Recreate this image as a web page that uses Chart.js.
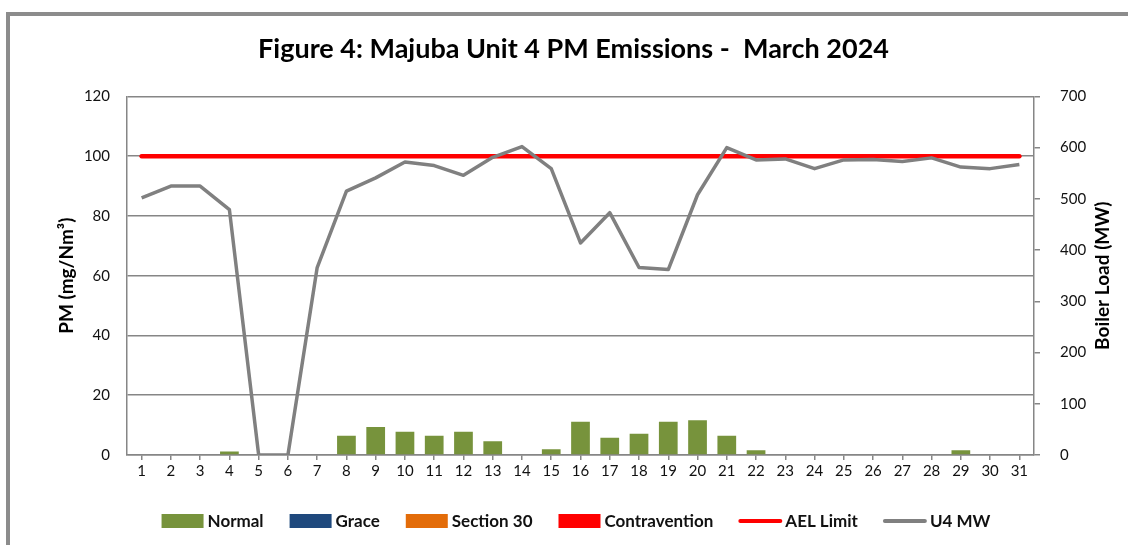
<!DOCTYPE html>
<html>
<head>
<meta charset="utf-8">
<title>Majuba Unit 4 PM Emissions - March 2024</title>
<script src="https://cdn.jsdelivr.net/npm/chart.js@4.4.1/dist/chart.umd.min.js"></script>
<style>
  html, body { margin: 0; padding: 0; background: #fff; overflow: hidden; }
  #wrap { position: relative; width: 1128px; height: 545px; }
  #frame { position: absolute; left: 6px; top: 12px; width: 1140px; height: 560px;
           border-top: 4px solid #8c8c8c; border-left: 4px solid #8c8c8c; pointer-events: none; }
</style>
</head>
<body>
<div id="wrap">
  <canvas id="pm_chart" width="1128" height="545"></canvas>
  <div id="frame"></div>
</div>
<script>
// days of March 2024
const days = ['1','2','3','4','5','6','7','8','9','10','11','12','13','14','15','16',
              '17','18','19','20','21','22','23','24','25','26','27','28','29','30','31'];

// PM (mg/Nm3) daily averages, by status
const normal = [null, null, null, 1.2, null, null, null, 6.4, 9.4, 7.8, 6.4, 7.8, 4.6, null, 1.9, 11.1,
                5.8, 7.1, 11.1, 11.6, 6.4, 1.6, null, null, null, null, null, null, 1.6, null, null];
const grace = [];
const section30 = [];
const contravention = [];

// emission limit (mg/Nm3)
const aelLimit = [100, 100, 100, 100, 100, 100, 100, 100, 100, 100, 100, 100, 100, 100, 100, 100,
                  100, 100, 100, 100, 100, 100, 100, 100, 100, 100, 100, 100, 100, 100, 100];

// unit 4 boiler load (MW)
const u4MW = [502, 525, 525, 479, 0, 0, 366, 515, 541, 572, 565, 546, 581, 602, 559, 414,
              473, 366, 362, 508, 600, 576, 578, 559, 576, 577, 573, 580, 562, 559, 567];

const FONT = 'Lato';
const AXIS_GREY = '#868686';

// legend drawn under the x axis, Excel style (wide swatches)
const bottomLegend = {
    id: 'bottomLegend',
    afterDraw(chart) {
        const ctx = chart.ctx;
        ctx.save();
        ctx.font = `bold 17px ${FONT}`;
        ctx.textBaseline = 'middle';
        const items = chart.data.datasets.map(ds => ({
            text: ds.label,
            line: ds.type === 'line',
            color: ds.type === 'line' ? ds.borderColor : ds.backgroundColor
        }));
        const swatch = 42, gap = 4, spacing = 26;
        let total = 0;
        items.forEach((it, i) => {
            it.w = swatch + gap + ctx.measureText(it.text).width;
            total += it.w + (i > 0 ? spacing : 0);
        });
        let x = 576 - total / 2;
        const y = 521;
        items.forEach(it => {
            if (it.line) {
                ctx.strokeStyle = it.color;
                ctx.lineWidth = 4;
                ctx.lineCap = 'round';
                ctx.beginPath();
                ctx.moveTo(x + 1, y);
                ctx.lineTo(x + swatch - 1, y);
                ctx.stroke();
            } else {
                ctx.fillStyle = it.color;
                ctx.fillRect(x, y - 7, swatch, 14);
            }
            ctx.fillStyle = '#111';
            ctx.fillText(it.text, x + swatch + gap, y + 1);
            x += it.w + spacing;
        });

        // right axis title reads bottom to top, like the left one
        const area = chart.chartArea;
        ctx.translate(1103, (area.top + area.bottom) / 2);
        ctx.rotate(-Math.PI / 2);
        ctx.textAlign = 'center';
        ctx.font = `bold 19px ${FONT}`;
        ctx.fillStyle = '#000';
        ctx.fillText('Boiler Load (MW)', 0, 0);
        ctx.restore();
    }
};

new Chart(document.getElementById('pm_chart'), {
    type: 'bar',
    data: {
        labels: days,
        datasets: [
            { label: 'Normal', data: normal, backgroundColor: '#77933C', yAxisID: 'y', order: 2,
              barPercentage: 0.64, categoryPercentage: 1 },
            { label: 'Grace', data: grace, backgroundColor: '#1F497D', yAxisID: 'y', order: 2 },
            { label: 'Section 30', data: section30, backgroundColor: '#E36C09', yAxisID: 'y', order: 2 },
            { label: 'Contravention', data: contravention, backgroundColor: '#FF0000', yAxisID: 'y', order: 2 },
            { label: 'AEL Limit', type: 'line', data: aelLimit, borderColor: '#FF0000', borderWidth: 4.5,
              pointRadius: 0, yAxisID: 'y', order: 1, borderCapStyle: 'round' },
            { label: 'U4 MW', type: 'line', data: u4MW, borderColor: '#808080', borderWidth: 3.5,
              pointRadius: 0, yAxisID: 'y1', order: 0, tension: 0, borderJoinStyle: 'round' }
        ]
    },
    options: {
        responsive: false,
        animation: false,
        // asymmetric padding keeps the title centred where the original has it
        layout: { padding: { left: 55, right: 36, top: 0, bottom: 45 } },
        scales: {
            x: {
                stacked: true,
                grid: { display: true, drawOnChartArea: false, offset: false, tickLength: 5, color: AXIS_GREY, lineWidth: 1.5 },
                border: { color: AXIS_GREY, width: 1.5 },
                ticks: { color: '#111', font: { family: FONT, size: 15 }, padding: 2, maxRotation: 0, autoSkip: false },
                afterFit: s => { s.height = 45; }
            },
            y: {
                position: 'left',
                min: 0,
                max: 120,
                ticks: { stepSize: 20, padding: 17, color: '#111', font: { family: FONT, size: 15 } },
                grid: { color: AXIS_GREY, lineWidth: 1.5, drawTicks: false },
                border: { color: AXIS_GREY, width: 1.5 },
                title: { display: true, text: 'PM (mg/Nm³)', color: '#000', padding: 0,
                         font: { family: FONT, size: 19, weight: 'bold' } },
                afterFit: s => { s.width = 72; }
            },
            y1: {
                position: 'right',
                min: 0,
                max: 700,
                ticks: { stepSize: 100, padding: 20, color: '#111', font: { family: FONT, size: 15 } },
                grid: { drawOnChartArea: false, tickLength: 6, color: AXIS_GREY, lineWidth: 1.5 },
                border: { color: AXIS_GREY, width: 1.5 },
                afterFit: s => { s.width = 58; }
            }
        },
        plugins: {
            title: {
                display: true,
                text: 'Figure 4: Majuba Unit 4 PM Emissions -  March 2024',
                color: '#000',
                font: { family: FONT, size: 27, weight: 'bold' },
                padding: { top: 33, bottom: 31 }
            },
            legend: { display: false },
            tooltip: { enabled: false }
        }
    },
    plugins: [bottomLegend]
});
</script>
</body>
</html>
